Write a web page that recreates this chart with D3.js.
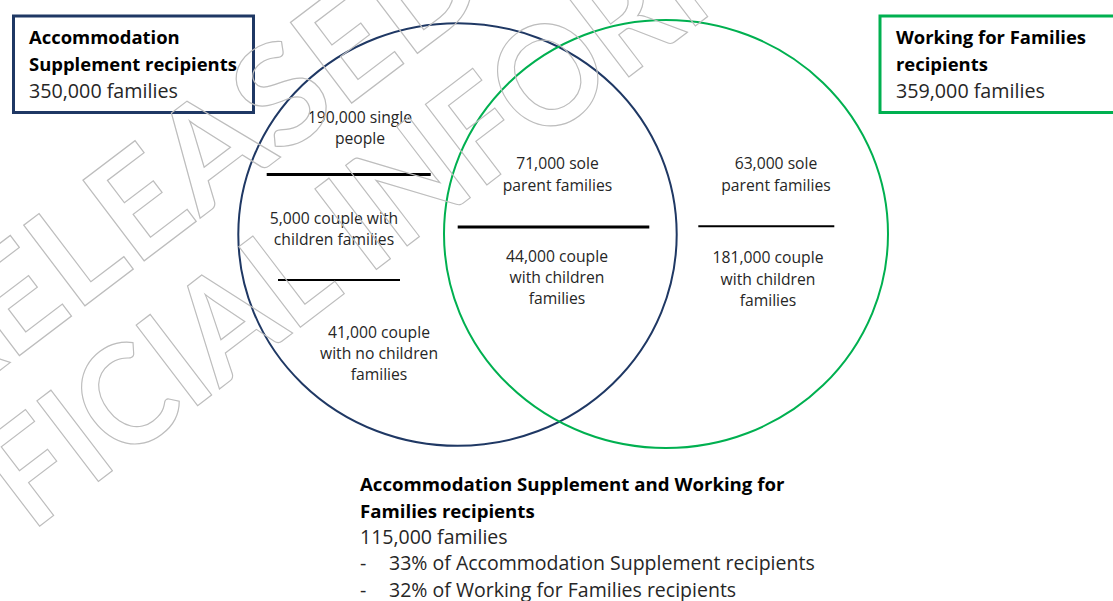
<!DOCTYPE html>
<html>
<head>
<meta charset="utf-8">
<script src="https://cdn.jsdelivr.net/npm/d3@7"></script>
<style>
  html, body { margin: 0; padding: 0; background: #fff; }
  svg { display: block; font-family: "Open Sans", Lato, sans-serif; }
  .title { font-weight: 700; fill: #000; }
  .body-text { fill: #262626; }
  .seg-label { fill: #262626; text-anchor: middle; }
  .watermark text { fill: none; stroke: #bdbdbd; stroke-width: 1.2; font-family: Lato, sans-serif; font-weight: 700; }
</style>
</head>
<body>
<div id="chart"></div>
<script>
// Two benefit groups and their overlap
const setNames = ["Accommodation Supplement recipients", "Working for Families recipients"];
const setTitleLines = [["Accommodation", "Supplement recipients"], ["Working for Families", "recipients"]];
const setTotals = [350000, 359000];
const overlapTitleLines = ["Accommodation Supplement and Working for", "Families recipients"];
const overlapTotal = 115000;
const overlapShares = [33, 32];

// Breakdown inside each region of the diagram (wrapped as in the source)
const accOnlyLabels = [["190,000 single", "people"], ["5,000 couple with", "children families"], ["41,000 couple", "with no children", "families"]];
const bothLabels = [["71,000 sole", "parent families"], ["44,000 couple", "with children", "families"]];
const wffOnlyLabels = [["63,000 sole", "parent families"], ["181,000 couple", "with children", "families"]];

const watermarkLines = ["RELEASED UNDER THE", "OFFICIAL INFORMATION ACT"];

const width = 1113, height = 601;
const fmt = d3.format(",");
const colors = ["#1f3864", "#00b050"];

const svg = d3.select("#chart").append("svg")
  .attr("width", width).attr("height", height)
  .attr("viewBox", `0 0 ${width} ${height}`);

// size a group of texts so a sample line spans the width it has in the source
function fitSize(cls, sampleText, targetWidth, base = 20) {
  const probe = svg.append("text").attr("class", cls).attr("font-size", base).text(sampleText);
  const size = base * targetWidth / probe.node().getComputedTextLength();
  probe.remove();
  return size;
}

// Circle size follows group size (area-proportional)
const radius = d3.scaleSqrt().domain([0, d3.max(setTotals)]).range([0, 222]);
const squash = 0.964; // source circles are drawn slightly flattened
const centers = [{ x: 457.5, y: 234.5 }, { x: 666, y: 234 }];

svg.append("g").selectAll("ellipse")
  .data(setTotals)
  .join("ellipse")
  .attr("cx", (d, i) => centers[i].x)
  .attr("cy", (d, i) => centers[i].y)
  .attr("rx", (d) => radius(d))
  .attr("ry", (d) => radius(d) * squash)
  .attr("fill", "none")
  .attr("stroke", (d, i) => colors[i])
  .attr("stroke-width", 2);

// Title boxes
const boxes = [
  { x: 13.5, y: 16, w: 240, h: 96.5, tx: 29 },
  { x: 880, y: 16, w: 260, h: 96.5, tx: 896 }
];
const titleSize = fitSize("title", "Supplement recipients", 208);
const bodySize = fitSize("body-text", "350,000 families", 149);

const boxG = svg.append("g").selectAll("g").data(setNames).join("g");
boxG.append("rect")
  .attr("x", (d, i) => boxes[i].x).attr("y", (d, i) => boxes[i].y)
  .attr("width", (d, i) => boxes[i].w).attr("height", (d, i) => boxes[i].h)
  .attr("fill", "none")
  .attr("stroke", (d, i) => colors[i])
  .attr("stroke-width", 3);
boxG.each(function (d, i) {
  const g = d3.select(this);
  setTitleLines[i].forEach((line, j) => {
    g.append("text").attr("class", "title")
      .attr("x", boxes[i].tx).attr("y", 44 + j * 26.7)
      .attr("font-size", titleSize).text(line);
  });
  g.append("text").attr("class", "body-text")
    .attr("x", boxes[i].tx).attr("y", 97.5)
    .attr("font-size", bodySize).text(`${fmt(setTotals[i])} families`);
});

// Region breakdown labels
const segSize = fitSize("seg-label", "parent families", 109.6);
const labelLayout = [
  { labels: accOnlyLabels, pos: [{ x: 360, y: 122.7 }, { x: 334, y: 224 }, { x: 379, y: 337.7 }] },
  { labels: bothLabels, pos: [{ x: 557.5, y: 169.3 }, { x: 557, y: 261.7 }] },
  { labels: wffOnlyLabels, pos: [{ x: 776, y: 169.3 }, { x: 768, y: 263.3 }] }
];
const segG = svg.append("g");
labelLayout.forEach((region) => {
  region.labels.forEach((lines, k) => {
    const t = segG.append("text").attr("class", "seg-label")
      .attr("x", region.pos[k].x).attr("y", region.pos[k].y)
      .attr("font-size", segSize);
    lines.forEach((line, j) => {
      t.append("tspan").attr("x", region.pos[k].x).attr("dy", j === 0 ? 0 : 21.2).text(line);
    });
  });
});

// Divider rules between the breakdown items
const rules = [
  { x1: 266.7, x2: 430.7, y: 174.5, w: 3 },
  { x1: 278, x2: 400, y: 280, w: 2 },
  { x1: 457.7, x2: 649.3, y: 227, w: 3 },
  { x1: 698.3, x2: 834.3, y: 226.3, w: 2 }
];
segG.selectAll("line").data(rules).join("line")
  .attr("x1", (d) => d.x1).attr("x2", (d) => d.x2)
  .attr("y1", (d) => d.y).attr("y2", (d) => d.y)
  .attr("stroke", "#000").attr("stroke-width", (d) => d.w);

// Overlap summary beneath the diagram
const sumTitleSize = fitSize("title", overlapTitleLines[0], 425);
const sumBodySize = fitSize("body-text", `${overlapShares[0]}% of ${setNames[0]}`, 426);
const sumG = svg.append("g");
overlapTitleLines.forEach((line, j) => {
  sumG.append("text").attr("class", "title").attr("x", 360).attr("y", 491 + j * 26.5)
    .attr("font-size", sumTitleSize).text(line);
});
sumG.append("text").attr("class", "body-text").attr("x", 360).attr("y", 543.5)
  .attr("font-size", sumBodySize).text(`${fmt(overlapTotal)} families`);
overlapShares.forEach((s, i) => {
  const y = 570 + i * 26.7;
  sumG.append("text").attr("class", "body-text").attr("x", 360).attr("y", y)
    .attr("font-size", sumBodySize).text("-");
  sumG.append("text").attr("class", "body-text").attr("x", 389).attr("y", y)
    .attr("font-size", sumBodySize).text(`${s}% of ${setNames[i]}`);
});

// Outlined watermark, each line laid so two of its letters sit where they do in the source
const wm = svg.append("g").attr("class", "watermark");
const wmSize = 140;
const capMid = -0.36 * wmSize;
const wmAnchors = [
  { i: 2, p: { x: 75, y: 250 }, j: 6, q: { x: 345, y: 45 } },   // L ... E of RELEASED
  { i: 2, p: { x: 30, y: 470 }, j: 12, q: { x: 548, y: 75 } }   // F of OFFICIAL ... O of INFORMATION
];

function charCenter(node, i) {
  const e = node.getExtentOfChar(i);
  return e.x + e.width / 2;
}
watermarkLines.forEach((str, k) => {
  const a = wmAnchors[k];
  const t = wm.append("text").attr("font-size", wmSize).text(str);
  const ci = charCenter(t.node(), a.i), cj = charCenter(t.node(), a.j);
  const ang = Math.atan2(a.q.y - a.p.y, a.q.x - a.p.x);
  const sx = Math.hypot(a.q.x - a.p.x, a.q.y - a.p.y) / (cj - ci);
  const cos = Math.cos(ang), sin = Math.sin(ang);
  const mx = cos * sx * ci - sin * capMid;
  const my = sin * sx * ci + cos * capMid;
  t.attr("transform",
    `translate(${a.p.x - mx},${a.p.y - my}) rotate(${ang * 180 / Math.PI}) scale(${sx},1)`);
});
</script>
</body>
</html>
